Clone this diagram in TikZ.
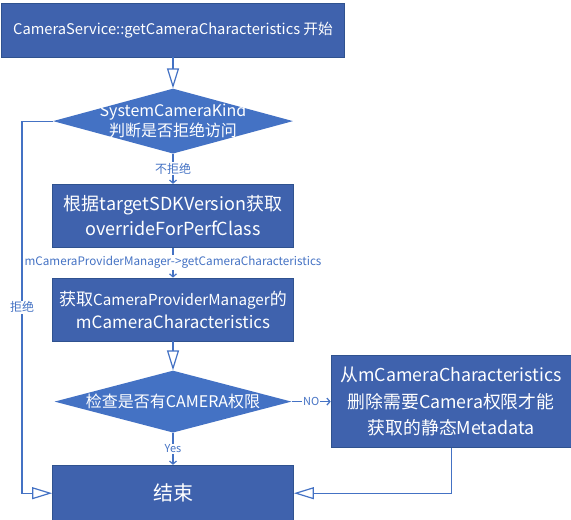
\documentclass[tikz,border=0pt]{standalone}
\usepackage{fontspec}
\setmainfont{Noto Sans CJK SC}
\usetikzlibrary{positioning, shapes.geometric, arrows.meta}
\definecolor{boxblue}{RGB}{63,98,173}
\definecolor{boxedge}{RGB}{47,82,143}
\definecolor{kindblue}{RGB}{68,114,196}
\definecolor{lineblue}{RGB}{68,114,196}

\begin{document}
\begin{tikzpicture}[x = 1pt, y = -1pt, node distance = 30pt,
                    >={Triangle[open, length = 20pt, width = 12pt]}]
    \useasboundingbox (0,0) rectangle (571,520);
    \tikzset{StepBox/.style = {rectangle,
                               fill          = boxblue,
                               draw          = boxedge,
                               line width    = 0.8pt,
                               text          = white,
                               inner sep     = 0pt,
                               minimum width = 241pt,
                               align         = center,
                               font          = \fontsize{18pt}{25pt}\selectfont}}
    \tikzset{CheckDiamond/.style = {diamond,
                                    fill           = kindblue,
                                    inner sep      = 0pt,
                                    minimum width  = 240pt,
                                    minimum height = 65pt}}
    \tikzset{DiamondText/.style = {text  = white,
                                   align = center,
                                   font  = \fontsize{16pt}{20pt}\selectfont}}
    \tikzset{FlowLine/.style = {draw       = lineblue,
                                line width = 1.2pt}}
    \tikzset{SmallTip/.style = {-{Straight Barb[length = 3pt, width = 7pt]}}}
    \tikzset{EdgeLabel/.style = {fill      = white,
                                 text      = lineblue,
                                 inner sep = 1pt,
                                 font      = \fontsize{12pt}{14pt}\selectfont}}
    % nodes
    \node[StepBox, minimum width = 343pt, minimum height = 54pt,
          font = \fontsize{14.7pt}{17pt}\selectfont] (start) at (173,30)
          {CameraService::getCameraCharacteristics 开始};
    \node[CheckDiamond, below = 31pt of start,
          label = {[DiamondText]center:SystemCameraKind\\判断是否拒绝访问}] (kind) {};
    \node[StepBox, minimum height = 63pt, below = 30pt of kind] (sdk)
          {根据targetSDKVersion获取\\overrideForPerfClass};
    \node[StepBox, minimum height = 63pt, below = 30pt of sdk,
          font = \fontsize{17pt}{23pt}\selectfont] (pm)
          {获取{\fontsize{15.2pt}{23pt}\selectfont CameraProviderManager}的\\mCameraCharacteristics};
    \node[CheckDiamond, minimum width = 237pt, minimum height = 62pt, below = 29pt of pm,
          label = {[DiamondText]center:检查是否有CAMERA权限}] (perm) {};
    \node[StepBox, minimum height = 56pt, below = 32pt of perm,
          font = \fontsize{20pt}{22pt}\selectfont] (end) {结束};
    \node[StepBox, minimum width = 240pt, minimum height = 92pt, right = 39pt of perm,
          font = \fontsize{17.8pt}{26.5pt}\selectfont] (strip)
          {从mCameraCharacteristics\\删除需要Camera权限才能\\获取的静态Metadata};
    \coordinate (rail) at (22,0);
    % connectors
    \draw[FlowLine, ->] (start) -- (kind);
    \draw[FlowLine, SmallTip] (kind) -- node[EdgeLabel] {不拒绝} (sdk);
    \draw[FlowLine, SmallTip] (sdk) -- node[EdgeLabel, font = \fontsize{11.7pt}{13pt}\selectfont]
          {mCameraProviderManager->getCameraCharacteristics} (pm);
    \draw[FlowLine, ->] (pm) -- (perm);
    \draw[FlowLine, SmallTip] (perm) -- node[EdgeLabel, font = \fontsize{11pt}{13pt}\selectfont] {Yes} (end);
    \draw[FlowLine, SmallTip] (perm) -- node[EdgeLabel, font = \fontsize{11pt}{13pt}\selectfont] {NO} (strip);
    \draw[FlowLine, ->] (kind.west) -- (kind.west -| rail) |- node[EdgeLabel, pos = 0.25] {拒绝} (end.west);
    \draw[FlowLine, ->] (strip.south) |- (end.east);
\end{tikzpicture}
\end{document}
